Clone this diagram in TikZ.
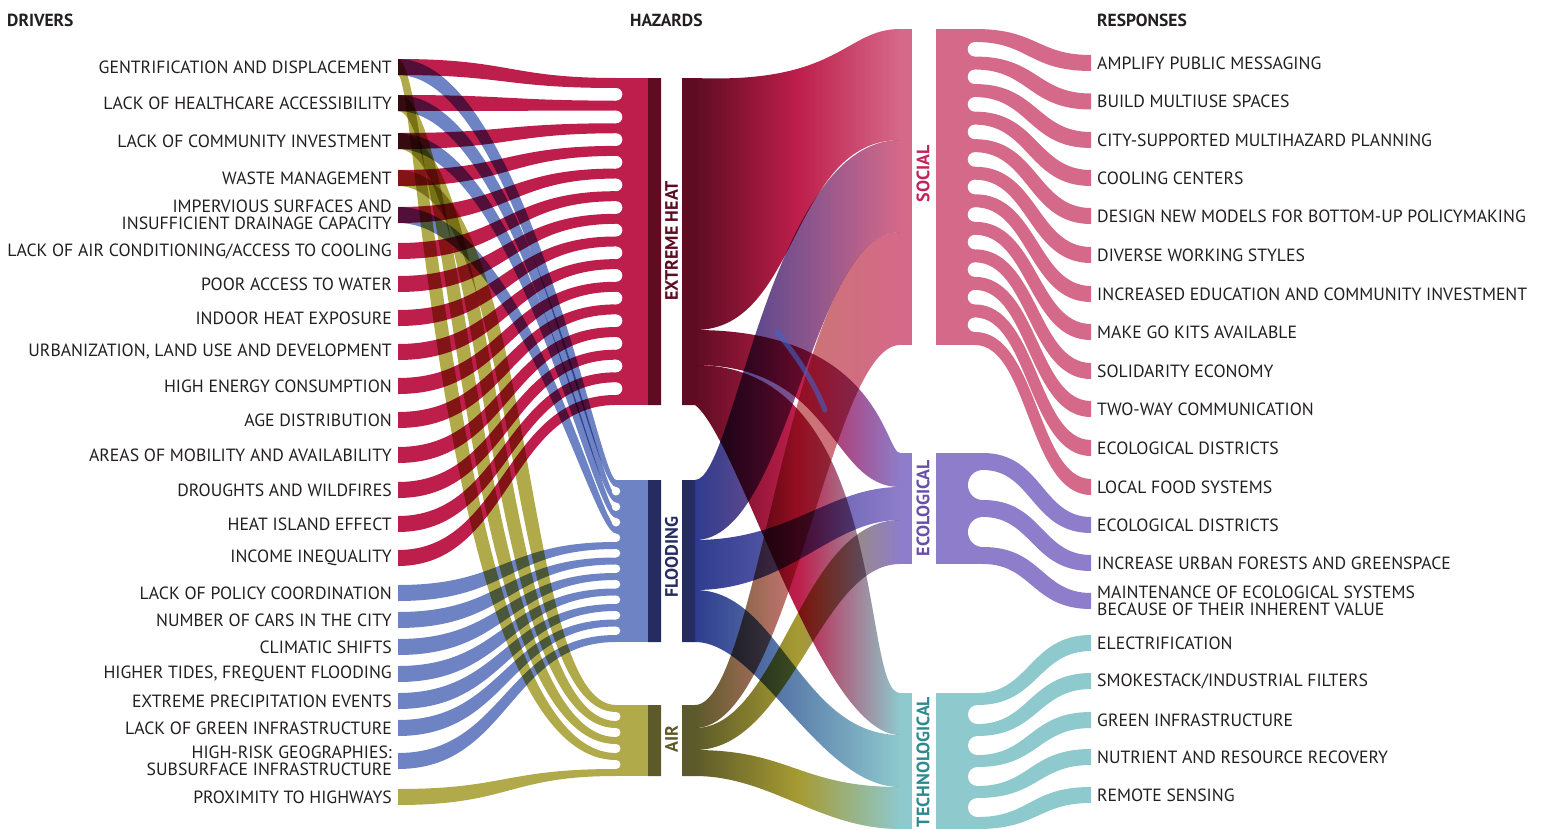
\documentclass[tikz,border=0pt]{standalone}
\usepackage{fontspec}
\setmainfont{PT Sans}

\definecolor{ink}{HTML}{231F20}
\definecolor{heat}{HTML}{BE1E4B}
\definecolor{heatdark}{HTML}{5E0C22}
\definecolor{flood}{HTML}{6E83C3}
\definecolor{flooddark}{HTML}{252C62}
\definecolor{floodflow}{HTML}{2F3C8E}
\definecolor{floodline}{HTML}{3F62C8}
\definecolor{air}{HTML}{B0AA4B}
\definecolor{airdark}{HTML}{5C5A2A}
\definecolor{airmid}{HTML}{A69A32}
\definecolor{social}{HTML}{D5698A}
\definecolor{socialtxt}{HTML}{C2245A}
\definecolor{eco}{HTML}{8E7DCA}
\definecolor{ecotxt}{HTML}{6A4FA8}
\definecolor{tech}{HTML}{8EC9CD}
\definecolor{techtxt}{HTML}{2E8A90}

% tapered ribbon: x1, y1, w1, x2, y2, w2, handle x1, handle x2
\newcommand\bshift{0.2}
\newcommand\flowband[8]{%
  \pgfmathsetmacro\bdx{\bshift*((#3)+(#6))/2*(((#5)>(#2))-((#5)<(#2)))}%
  \fill ({#1},{#2-(#3)/2}) .. controls ({#7+(\bdx)},{#2-(#3)/2}) and ({#8+(\bdx)},{#5-(#6)/2}) .. ({#4},{#5-(#6)/2})
    -- ({#4},{#5+(#6)/2}) .. controls ({#8-(\bdx)},{#5+(#6)/2}) and ({#7-(\bdx)},{#2+(#3)/2}) .. ({#1},{#2+(#3)/2}) -- cycle;}

% hazard-to-category flow: colours, left top, right top, right bottom, left bottom, four handles
\newcommand\midflow[9]{%
  \shade[#1] (695,#2) .. controls (#6) and (#7) .. (900,#3)
    -- (900,#4) .. controls (#8) and (#9) .. (695,#5) -- cycle;}

\begin{document}
\begin{tikzpicture}[x=1pt,y=-1pt,
  drv/.style={anchor=east,align=right,text=ink,font=\fontsize{17.7}{17.5}\selectfont,inner sep=0pt},
  rsp/.style={anchor=west,align=left,text=ink,font=\fontsize{17.7}{17.5}\selectfont,inner sep=0pt},
  head/.style={anchor=west,text=ink,font=\bfseries\fontsize{17.5}{18}\selectfont,inner sep=0pt},
  vlab/.style={rotate=90,font=\bfseries\fontsize{18}{18}\selectfont,inner sep=0pt}]
\useasboundingbox (0,0) rectangle (1543,830);

% headers
\node[head] (hdrivers) at (7,20) {DRIVERS};
\node[head] (hhazards) at (630,20) {HAZARDS};
\node[head] (hresponses) at (1097,20) {RESPONSES};

% drivers
\foreach \y/\t [count=\i] in {67/GENTRIFICATION AND DISPLACEMENT, 103/LACK OF HEALTHCARE ACCESSIBILITY,
  141/LACK OF COMMUNITY INVESTMENT, 178/WASTE MANAGEMENT,
  215/{IMPERVIOUS SURFACES AND\\INSUFFICIENT DRAINAGE CAPACITY},
  251/{LACK OF AIR CONDITIONING/ACCESS TO COOLING}, 284/POOR ACCESS TO WATER,
  318/INDOOR HEAT EXPOSURE, 352/{URBANIZATION, LAND USE AND DEVELOPMENT},
  386/HIGH ENERGY CONSUMPTION, 420/AGE DISTRIBUTION, 455/AREAS OF MOBILITY AND AVAILABILITY,
  490/DROUGHTS AND WILDFIRES, 524/HEAT ISLAND EFFECT, 558/INCOME INEQUALITY,
  593/LACK OF POLICY COORDINATION, 620/NUMBER OF CARS IN THE CITY, 647/CLIMATIC SHIFTS,
  674/{HIGHER TIDES, FREQUENT FLOODING}, 701/EXTREME PRECIPITATION EVENTS,
  728/LACK OF GREEN INFRASTRUCTURE, 761/{HIGH-RISK GEOGRAPHIES:\\SUBSURFACE INFRASTRUCTURE},
  797/PROXIMITY TO HIGHWAYS}
  \node[drv] (drv\i) at (392,\y) {\t};

% driver ribbons
\begin{scope}[blend mode=multiply]
  \begin{scope}[fill=heat]
    \foreach \d [count=\i from 0] in {67,103,141,178,215,251,284,318,352,386,420,455,490,524,558}
      {\flowband{398}{\d}{16}{616}{83+22.64*\i}{10}{507}{507}}
  \end{scope}
  \begin{scope}[fill=flood]
    \def\bshift{0.35}
    \foreach \d/\s in {67/0,103/1,141/2,215/3}
      {\flowband{398}{\d}{16}{616}{483.5+15.5*\s}{7}{520}{595}}
    \def\bshift{0.2}
    \foreach \d [count=\i from 4] in {593,620,647,674,701,728,761}
      {\flowband{398}{\d}{16}{616}{483.5+15.5*\i}{7}{507}{507}}
  \end{scope}
  \begin{scope}[fill=air]
    \def\bshift{0.7}
    \foreach \d/\s/\ca/\cb in {67/3/425/450,103/2/460/470,141/1/495/490,178/0/530/510}
      {\flowband{398}{\d}{16}{616}{708.5+16*\s}{7}{\ca}{\cb}}
    \def\bshift{0.2}
    \flowband{398}{797}{16}{616}{772.5}{7}{507}{507}
  \end{scope}
\end{scope}

% hazard collectors
\fill[heat] (616,78) rectangle (648,405);
\foreach \i in {0,...,13} \fill[white] (616,{94.32+22.64*\i}) circle (6.32);
\fill[flood] (616,480) rectangle (648,642);
\foreach \i in {0,...,9} \fill[white] (616,{491.25+15.5*\i}) circle (4.25);
\fill[air] (616,705) rectangle (648,776);
\foreach \i in {0,...,3} \fill[white] (616,{716.5+16*\i}) circle (4.5);

% hazards to categories
\begin{scope}[blend mode=multiply]
  \midflow{left color=heatdark,right color=social,middle color=heat}{78}{29}{140}{330}{840,84}{845,29}{790,140}{800,330}
  \midflow{left color=heatdark,right color=eco,middle color=heat}{330}{453}{487}{365}{880,330}{885,453}{830,487}{835,365}
  \midflow{left color=heatdark,right color=tech,middle color=heat}{365}{693}{735}{405}{890,365}{860,693}{820,735}{740,440}
  \midflow{left color=floodflow,right color=social}{480}{140}{232}{540}{735,480}{770,140}{810,232}{790,540}
  \midflow{left color=floodflow,right color=eco}{540}{487}{520}{590}{790,540}{830,487}{830,520}{790,590}
  \midflow{left color=floodflow,right color=tech}{590}{735}{787}{642}{780,590}{800,735}{820,787}{760,642}
  \midflow{left color=airdark,right color=social,middle color=social!75!airmid}{705}{232}{345}{728}{760,705}{790,232}{830,345}{790,728}
  \midflow{left color=airdark,right color=eco,middle color=airmid}{728}{520}{564}{750}{780,728}{800,520}{820,564}{790,750}
  \midflow{left color=airdark,right color=tech,middle color=airmid}{750}{787}{829}{776}{790,750}{800,787}{820,829}{770,776}
\end{scope}
\draw[floodline,opacity=0.6,line width=5,line cap=round] (777,332) .. controls (800,360) and (815,385) .. (825,410);

% hazard bars
\fill[heatdark] (648,78) rectangle (661,405) (682,78) rectangle (695,405);
\fill[flooddark] (648,480) rectangle (661,642) (682,480) rectangle (695,642);
\fill[airdark] (648,705) rectangle (661,776) (682,705) rectangle (695,776);
\node[vlab,text=heatdark] (lheat) at (671.5,241) {EXTREME HEAT};
\node[vlab,text=flooddark] (lflood) at (671.5,557) {FLOODING};
\node[vlab,text=airdark] (lair) at (671.5,739) {AIR};

% category bars
\fill[social] (900,29) rectangle (912,345);
\fill[eco] (900,453) rectangle (912,564);
\fill[tech] (900,693) rectangle (912,829);
\node[vlab,text=socialtxt] (lsocial) at (923,174) {SOCIAL};
\node[vlab,text=ecotxt] (leco) at (923,508) {ECOLOGICAL};
\node[vlab,text=techtxt] (ltech) at (923,762) {TECHNOLOGICAL};

% category combs
\fill[social] (936,29) rectangle (975,345);
\begin{scope}[fill=social]
  \def\bshift{0.3}
  \foreach \r [count=\i from 0] in {63,101.5,140,178,216,255,294,332,371,409,448,487}
    {\flowband{975}{35.5+27.545*\i}{13}{1091}{\r}{16}{1033}{1033}}
\end{scope}
\foreach \i in {0,...,10} \fill[white] (975,{49.27+27.545*\i}) circle (7.27);
\fill[eco] (936,453) rectangle (983,564);
\begin{scope}[fill=eco]
  \def\bshift{0.3}
  \foreach \r [count=\i from 0] in {525,563,601}
    {\flowband{983}{461.5+47*\i}{17}{1091}{\r}{16}{1037}{1037}}
\end{scope}
\foreach \i in {0,1} \fill[white] (983,{485+47*\i}) circle (15);
\fill[tech] (936,693) rectangle (977.5,829);
\begin{scope}[fill=tech]
  \def\bshift{0.3}
  \foreach \r [count=\i from 0] in {643,681,720,757,795}
    {\flowband{977.5}{699+31*\i}{12}{1091}{\r}{16}{1034}{1034}}
\end{scope}
\foreach \i in {0,...,3} \fill[white] (977.5,{714.5+31*\i}) circle (9.5);

% responses
\foreach \y/\t [count=\i] in {63/AMPLIFY PUBLIC MESSAGING, 101.5/BUILD MULTIUSE SPACES,
  140/CITY-SUPPORTED MULTIHAZARD PLANNING, 178/COOLING CENTERS,
  216/DESIGN NEW MODELS FOR BOTTOM-UP POLICYMAKING, 255/DIVERSE WORKING STYLES,
  294/INCREASED EDUCATION AND COMMUNITY INVESTMENT, 332/MAKE GO KITS AVAILABLE,
  371/SOLIDARITY ECONOMY, 409/TWO-WAY COMMUNICATION, 448/ECOLOGICAL DISTRICTS,
  487/LOCAL FOOD SYSTEMS, 525/ECOLOGICAL DISTRICTS, 563/INCREASE URBAN FORESTS AND GREENSPACE,
  601/{MAINTENANCE OF ECOLOGICAL SYSTEMS\\BECAUSE OF THEIR INHERENT VALUE},
  643/ELECTRIFICATION, 681/{SMOKESTACK/INDUSTRIAL FILTERS}, 720/GREEN INFRASTRUCTURE,
  757/NUTRIENT AND RESOURCE RECOVERY, 795/REMOTE SENSING}
  \node[rsp] (rsp\i) at (1097,\y) {\t};
\end{tikzpicture}
\end{document}
